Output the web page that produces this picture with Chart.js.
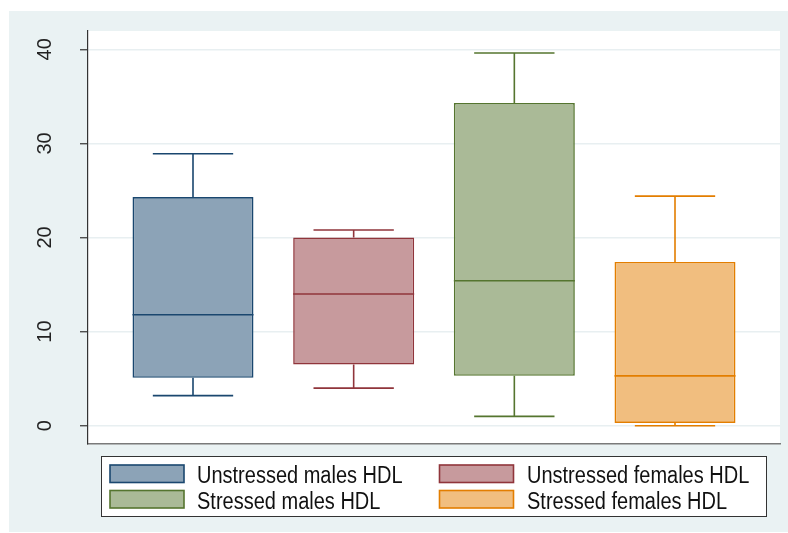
<!DOCTYPE html>
<html>
<head>
<meta charset="utf-8">
<title>HDL box plot</title>
<script src="https://cdn.jsdelivr.net/npm/chart.js@4/dist/chart.umd.min.js"></script>
<style>
  html, body { margin: 0; padding: 0; background: #ffffff; }
  canvas { display: block; }
</style>
</head>
<body>
<canvas id="hdlChart" width="788" height="533"></canvas>
<script>
// groups, in plotting order
const groupLabels = [
  "Unstressed males HDL",
  "Unstressed females HDL",
  "Stressed males HDL",
  "Stressed females HDL",
];
const groupPositions = [1, 2, 3, 4];

// box statistics per group
const lowerWhisker = [3.2, 4.0, 1.0, 0.0];
const lowerQuartile = [5.1, 6.5, 5.3, 0.3];
const medianValue = [11.8, 14.0, 15.4, 5.3];
const upperQuartile = [24.3, 20.0, 34.3, 17.4];
const upperWhisker = [28.9, 20.8, 39.6, 24.4];

const yTicks = [0, 10, 20, 30, 40];

const lineColors = ["#1a476f", "#90353b", "#55752f", "#e37e00"];
const fillColors = ["#8ca3b7", "#c79a9d", "#aaba97", "#f1be7f"];

const capWidth = 0.5; // whisker cap, in x units

const boxPlotExtras = {
  id: "boxPlotExtras",
  beforeDraw(chart) {
    const c = chart.ctx;
    const area = chart.chartArea;
    c.save();
    c.fillStyle = "#ffffff";
    c.fillRect(0, 0, chart.width, chart.height);
    c.fillStyle = "#eaf2f3";
    c.fillRect(9, 11, chart.width - 9, chart.height - 12);
    c.fillStyle = "#ffffff";
    c.fillRect(area.left, area.top, area.right - area.left, area.bottom - area.top);
    c.restore();
  },
  beforeDatasetsDraw(chart) {
    // whiskers and caps
    const c = chart.ctx;
    const xs = chart.scales.x;
    const ys = chart.scales.y;
    c.save();
    c.lineWidth = 1.6;
    groupPositions.forEach((pos, i) => {
      const x = xs.getPixelForValue(pos);
      const x0 = xs.getPixelForValue(pos - capWidth / 2);
      const x1 = xs.getPixelForValue(pos + capWidth / 2);
      const yHi = ys.getPixelForValue(upperWhisker[i]);
      const yLo = ys.getPixelForValue(lowerWhisker[i]);
      c.strokeStyle = lineColors[i];
      c.beginPath();
      c.moveTo(x, ys.getPixelForValue(upperQuartile[i]));
      c.lineTo(x, yHi);
      c.moveTo(x0, yHi);
      c.lineTo(x1, yHi);
      c.moveTo(x, ys.getPixelForValue(lowerQuartile[i]));
      c.lineTo(x, yLo);
      c.moveTo(x0, yLo);
      c.lineTo(x1, yLo);
      c.stroke();
    });
    c.restore();
  },
  afterDatasetsDraw(chart) {
    // median lines across each box
    const c = chart.ctx;
    const ys = chart.scales.y;
    const bars = chart.getDatasetMeta(0).data;
    c.save();
    c.lineWidth = 1.6;
    bars.forEach((bar, i) => {
      const y = ys.getPixelForValue(medianValue[i]);
      c.strokeStyle = lineColors[i];
      c.beginPath();
      c.moveTo(bar.x - bar.width / 2, y);
      c.lineTo(bar.x + bar.width / 2, y);
      c.stroke();
    });
    c.restore();
  },
  afterDraw(chart) {
    // two-column legend below the plot
    const c = chart.ctx;
    c.save();
    c.fillStyle = "#ffffff";
    c.fillRect(101, 456.5, 665.5, 60);
    c.strokeStyle = "#333333";
    c.lineWidth = 1;
    c.strokeRect(101.5, 456.5, 665, 60);
    c.textBaseline = "alphabetic";
    c.textAlign = "left";
    groupLabels.forEach((label, i) => {
      const col = i % 2;
      const row = Math.floor(i / 2);
      const sx = [110, 439.5][col];
      const sy = [465, 490.5][row];
      c.fillStyle = fillColors[i];
      c.fillRect(sx, sy, 74, 17.5);
      c.strokeStyle = lineColors[i];
      c.lineWidth = 1.6;
      c.strokeRect(sx, sy, 74, 17.5);
      // text is a little taller than it is wide
      c.save();
      c.translate([197, 527][col], [482.5, 509][row]);
      c.scale(1, 1.15);
      c.font = "20px 'Liberation Sans', Arial, sans-serif";
      c.fillStyle = "#111111";
      c.fillText(label, 0, 0);
      c.restore();
    });
    c.restore();
  },
};

function createChart() {
  const ctx = document.getElementById("hdlChart").getContext("2d");

  hdlChart = new Chart(ctx, {
    type: "bar",
    data: {
      datasets: [
        {
          label: "HDL",
          data: groupPositions.map((pos, i) => ({
            x: pos,
            y: [lowerQuartile[i], upperQuartile[i]],
          })),
          backgroundColor: fillColors,
          borderColor: lineColors,
          borderWidth: 1.6,
          borderSkipped: false,
          barPercentage: 0.753,
          categoryPercentage: 1,
        },
      ],
    },
    options: {
      responsive: false,
      animation: false,
      devicePixelRatio: 1,
      layout: {
        padding: { top: 31, right: 8, bottom: 89, left: 0 },
      },
      plugins: {
        legend: { display: false },
        tooltip: { enabled: false },
      },
      scales: {
        x: {
          type: "linear",
          min: 0.3465,
          max: 4.6535,
          offset: false,
          grid: { display: false },
          border: { display: true, color: "#7a7a7a", width: 1.5 },
          ticks: { display: false },
          afterBuildTicks: (scale) => {
            scale.ticks = groupPositions.map((v) => ({ value: v }));
          },
          afterFit: (scale) => {
            scale.height = 0;
          },
        },
        y: {
          type: "linear",
          min: -1.94,
          max: 41.94,
          stacked: false,
          grid: {
            color: "#e8eff1",
            lineWidth: 1.5,
            tickLength: 8,
            tickColor: "#333333",
            tickWidth: 1.2,
          },
          border: { display: true, color: "#333333", width: 1.2 },
          ticks: {
            minRotation: 90,
            maxRotation: 90,
            crossAlign: "center",
            padding: 23,
            color: "#222222",
            font: { family: "'Liberation Sans', Arial, sans-serif", size: 20 },
          },
          afterBuildTicks: (scale) => {
            scale.ticks = yTicks.map((v) => ({ value: v }));
          },
          afterFit: (scale) => {
            scale.width = 88;
            scale.paddingTop = 0;
            scale.paddingBottom = 0;
          },
        },
      },
    },
    plugins: [boxPlotExtras],
  });
}

createChart();
</script>
</body>
</html>
